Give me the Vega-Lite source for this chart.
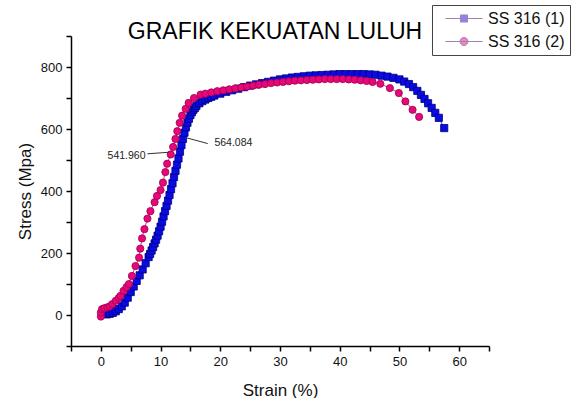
{
  "$schema": "https://vega.github.io/schema/vega-lite/v6.json",
  "width": 418,
  "height": 310,
  "autosize": {"type": "none"},
  "padding": {"left": 71, "top": 36, "right": 85, "bottom": 52},
  "background": "white",
  "config": {
    "view": {"stroke": null},
    "axis": {
      "domainColor": "#000", "domainWidth": 1.5, "tickColor": "#000", "tickWidth": 1.5, "tickSize": 5,
      "labelFont": "Liberation Sans", "labelFontSize": 13, "labelColor": "#111",
      "titleFont": "Liberation Sans", "titleFontSize": 17, "titleFontWeight": "normal", "titleColor": "#111",
      "grid": false, "labelFlush": false
    }
  },
  "title": {
    "text": "GRAFIK KEKUATAN LULUH", "font": "Liberation Sans", "fontSize": 23, "fontWeight": "normal",
    "color": "#000", "frame": "group", "anchor": "middle", "baseline": "alphabetic", "offset": -57, "dx": -5
  },
  "resolve": {"scale": {"color": "independent", "shape": "independent", "stroke": "independent", "size": "independent"}},
  "datasets": {
    "curves": [
      {"series": "SS 316 (1)", "strain": 1.0, "stress": 2},
      {"series": "SS 316 (1)", "strain": 1.5, "stress": 4},
      {"series": "SS 316 (1)", "strain": 2.0, "stress": 7},
      {"series": "SS 316 (1)", "strain": 2.5, "stress": 12},
      {"series": "SS 316 (1)", "strain": 3.0, "stress": 19},
      {"series": "SS 316 (1)", "strain": 3.5, "stress": 28},
      {"series": "SS 316 (1)", "strain": 4.0, "stress": 40},
      {"series": "SS 316 (1)", "strain": 4.5, "stress": 56},
      {"series": "SS 316 (1)", "strain": 5.0, "stress": 74},
      {"series": "SS 316 (1)", "strain": 5.5, "stress": 92},
      {"series": "SS 316 (1)", "strain": 6.0, "stress": 110},
      {"series": "SS 316 (1)", "strain": 6.5, "stress": 128},
      {"series": "SS 316 (1)", "strain": 7.0, "stress": 147},
      {"series": "SS 316 (1)", "strain": 7.5, "stress": 167},
      {"series": "SS 316 (1)", "strain": 8.0, "stress": 187},
      {"series": "SS 316 (1)", "strain": 8.25, "stress": 197},
      {"series": "SS 316 (1)", "strain": 8.5, "stress": 208},
      {"series": "SS 316 (1)", "strain": 8.75, "stress": 219},
      {"series": "SS 316 (1)", "strain": 9.0, "stress": 231},
      {"series": "SS 316 (1)", "strain": 9.25, "stress": 243},
      {"series": "SS 316 (1)", "strain": 9.5, "stress": 256},
      {"series": "SS 316 (1)", "strain": 9.75, "stress": 270},
      {"series": "SS 316 (1)", "strain": 10.0, "stress": 285},
      {"series": "SS 316 (1)", "strain": 10.25, "stress": 301},
      {"series": "SS 316 (1)", "strain": 10.5, "stress": 318},
      {"series": "SS 316 (1)", "strain": 10.75, "stress": 335},
      {"series": "SS 316 (1)", "strain": 11.0, "stress": 352},
      {"series": "SS 316 (1)", "strain": 11.25, "stress": 369},
      {"series": "SS 316 (1)", "strain": 11.5, "stress": 387},
      {"series": "SS 316 (1)", "strain": 11.75, "stress": 406},
      {"series": "SS 316 (1)", "strain": 12.0, "stress": 425},
      {"series": "SS 316 (1)", "strain": 12.25, "stress": 445},
      {"series": "SS 316 (1)", "strain": 12.5, "stress": 465},
      {"series": "SS 316 (1)", "strain": 12.75, "stress": 485},
      {"series": "SS 316 (1)", "strain": 13.0, "stress": 505},
      {"series": "SS 316 (1)", "strain": 13.25, "stress": 527},
      {"series": "SS 316 (1)", "strain": 13.5, "stress": 548},
      {"series": "SS 316 (1)", "strain": 13.75, "stress": 568},
      {"series": "SS 316 (1)", "strain": 14.0, "stress": 588},
      {"series": "SS 316 (1)", "strain": 14.25, "stress": 605},
      {"series": "SS 316 (1)", "strain": 14.5, "stress": 620},
      {"series": "SS 316 (1)", "strain": 14.75, "stress": 633},
      {"series": "SS 316 (1)", "strain": 15.0, "stress": 645},
      {"series": "SS 316 (1)", "strain": 15.25, "stress": 654},
      {"series": "SS 316 (1)", "strain": 15.5, "stress": 662},
      {"series": "SS 316 (1)", "strain": 15.75, "stress": 668},
      {"series": "SS 316 (1)", "strain": 16.0, "stress": 674},
      {"series": "SS 316 (1)", "strain": 16.5, "stress": 683},
      {"series": "SS 316 (1)", "strain": 17.0, "stress": 690},
      {"series": "SS 316 (1)", "strain": 17.5, "stress": 695},
      {"series": "SS 316 (1)", "strain": 18.0, "stress": 700},
      {"series": "SS 316 (1)", "strain": 18.5, "stress": 704},
      {"series": "SS 316 (1)", "strain": 19, "stress": 708},
      {"series": "SS 316 (1)", "strain": 20, "stress": 714},
      {"series": "SS 316 (1)", "strain": 21, "stress": 720},
      {"series": "SS 316 (1)", "strain": 22, "stress": 725},
      {"series": "SS 316 (1)", "strain": 23, "stress": 730},
      {"series": "SS 316 (1)", "strain": 24, "stress": 735},
      {"series": "SS 316 (1)", "strain": 25, "stress": 740},
      {"series": "SS 316 (1)", "strain": 26, "stress": 744},
      {"series": "SS 316 (1)", "strain": 27, "stress": 748},
      {"series": "SS 316 (1)", "strain": 28, "stress": 752},
      {"series": "SS 316 (1)", "strain": 29, "stress": 756},
      {"series": "SS 316 (1)", "strain": 30, "stress": 760},
      {"series": "SS 316 (1)", "strain": 31, "stress": 763},
      {"series": "SS 316 (1)", "strain": 32, "stress": 766},
      {"series": "SS 316 (1)", "strain": 33, "stress": 768},
      {"series": "SS 316 (1)", "strain": 34, "stress": 770},
      {"series": "SS 316 (1)", "strain": 35, "stress": 772},
      {"series": "SS 316 (1)", "strain": 36, "stress": 773},
      {"series": "SS 316 (1)", "strain": 37, "stress": 774},
      {"series": "SS 316 (1)", "strain": 38, "stress": 775},
      {"series": "SS 316 (1)", "strain": 39, "stress": 776},
      {"series": "SS 316 (1)", "strain": 40, "stress": 777},
      {"series": "SS 316 (1)", "strain": 41, "stress": 777},
      {"series": "SS 316 (1)", "strain": 42, "stress": 777},
      {"series": "SS 316 (1)", "strain": 43, "stress": 777},
      {"series": "SS 316 (1)", "strain": 44, "stress": 777},
      {"series": "SS 316 (1)", "strain": 45, "stress": 776},
      {"series": "SS 316 (1)", "strain": 46, "stress": 775},
      {"series": "SS 316 (1)", "strain": 47, "stress": 772},
      {"series": "SS 316 (1)", "strain": 48, "stress": 769},
      {"series": "SS 316 (1)", "strain": 49, "stress": 765},
      {"series": "SS 316 (1)", "strain": 50, "stress": 760},
      {"series": "SS 316 (1)", "strain": 50.8, "stress": 753},
      {"series": "SS 316 (1)", "strain": 51.6, "stress": 745},
      {"series": "SS 316 (1)", "strain": 52.3, "stress": 735},
      {"series": "SS 316 (1)", "strain": 53.0, "stress": 723},
      {"series": "SS 316 (1)", "strain": 53.6, "stress": 710},
      {"series": "SS 316 (1)", "strain": 54.2, "stress": 697},
      {"series": "SS 316 (1)", "strain": 54.8, "stress": 683},
      {"series": "SS 316 (1)", "strain": 55.4, "stress": 668},
      {"series": "SS 316 (1)", "strain": 56.0, "stress": 652},
      {"series": "SS 316 (1)", "strain": 56.6, "stress": 636},
      {"series": "SS 316 (1)", "strain": 57.5, "stress": 603},
      {"series": "SS 316 (2)", "strain": 0.0, "stress": -5},
      {"series": "SS 316 (2)", "strain": 0.0, "stress": 8},
      {"series": "SS 316 (2)", "strain": 0.2, "stress": 19},
      {"series": "SS 316 (2)", "strain": 0.6, "stress": 22},
      {"series": "SS 316 (2)", "strain": 1.1, "stress": 25},
      {"series": "SS 316 (2)", "strain": 1.5, "stress": 28},
      {"series": "SS 316 (2)", "strain": 1.9, "stress": 35},
      {"series": "SS 316 (2)", "strain": 2.5, "stress": 46},
      {"series": "SS 316 (2)", "strain": 3.0, "stress": 55},
      {"series": "SS 316 (2)", "strain": 3.3, "stress": 62},
      {"series": "SS 316 (2)", "strain": 3.8, "stress": 78},
      {"series": "SS 316 (2)", "strain": 4.3, "stress": 90},
      {"series": "SS 316 (2)", "strain": 4.7, "stress": 100},
      {"series": "SS 316 (2)", "strain": 5.2, "stress": 126},
      {"series": "SS 316 (2)", "strain": 5.8, "stress": 158},
      {"series": "SS 316 (2)", "strain": 6.4, "stress": 185},
      {"series": "SS 316 (2)", "strain": 6.6, "stress": 214},
      {"series": "SS 316 (2)", "strain": 6.9, "stress": 247},
      {"series": "SS 316 (2)", "strain": 7.3, "stress": 277},
      {"series": "SS 316 (2)", "strain": 7.8, "stress": 311},
      {"series": "SS 316 (2)", "strain": 8.3, "stress": 335},
      {"series": "SS 316 (2)", "strain": 9.0, "stress": 364},
      {"series": "SS 316 (2)", "strain": 9.4, "stress": 384},
      {"series": "SS 316 (2)", "strain": 10.0, "stress": 403},
      {"series": "SS 316 (2)", "strain": 10.4, "stress": 427},
      {"series": "SS 316 (2)", "strain": 10.8, "stress": 461},
      {"series": "SS 316 (2)", "strain": 11.1, "stress": 488},
      {"series": "SS 316 (2)", "strain": 11.7, "stress": 518},
      {"series": "SS 316 (2)", "strain": 12.1, "stress": 542},
      {"series": "SS 316 (2)", "strain": 12.5, "stress": 568},
      {"series": "SS 316 (2)", "strain": 12.8, "stress": 593},
      {"series": "SS 316 (2)", "strain": 13.2, "stress": 620},
      {"series": "SS 316 (2)", "strain": 13.6, "stress": 643},
      {"series": "SS 316 (2)", "strain": 14.2, "stress": 665},
      {"series": "SS 316 (2)", "strain": 14.7, "stress": 684},
      {"series": "SS 316 (2)", "strain": 15.6, "stress": 700},
      {"series": "SS 316 (2)", "strain": 16.7, "stress": 711},
      {"series": "SS 316 (2)", "strain": 17.5, "stress": 714},
      {"series": "SS 316 (2)", "strain": 18.5, "stress": 718},
      {"series": "SS 316 (2)", "strain": 19.5, "stress": 722},
      {"series": "SS 316 (2)", "strain": 20.5, "stress": 725},
      {"series": "SS 316 (2)", "strain": 21.5, "stress": 728},
      {"series": "SS 316 (2)", "strain": 22.5, "stress": 731},
      {"series": "SS 316 (2)", "strain": 23.5, "stress": 734},
      {"series": "SS 316 (2)", "strain": 24.5, "stress": 737},
      {"series": "SS 316 (2)", "strain": 25.5, "stress": 740},
      {"series": "SS 316 (2)", "strain": 26.5, "stress": 743},
      {"series": "SS 316 (2)", "strain": 27.5, "stress": 745},
      {"series": "SS 316 (2)", "strain": 28.5, "stress": 748},
      {"series": "SS 316 (2)", "strain": 29.5, "stress": 750},
      {"series": "SS 316 (2)", "strain": 30.5, "stress": 752},
      {"series": "SS 316 (2)", "strain": 31.5, "stress": 754},
      {"series": "SS 316 (2)", "strain": 32.5, "stress": 756},
      {"series": "SS 316 (2)", "strain": 33.5, "stress": 757},
      {"series": "SS 316 (2)", "strain": 34.5, "stress": 758},
      {"series": "SS 316 (2)", "strain": 35.5, "stress": 759},
      {"series": "SS 316 (2)", "strain": 36.5, "stress": 760},
      {"series": "SS 316 (2)", "strain": 37.5, "stress": 761},
      {"series": "SS 316 (2)", "strain": 38.5, "stress": 761},
      {"series": "SS 316 (2)", "strain": 39.5, "stress": 761},
      {"series": "SS 316 (2)", "strain": 40.5, "stress": 761},
      {"series": "SS 316 (2)", "strain": 41.5, "stress": 760},
      {"series": "SS 316 (2)", "strain": 42.5, "stress": 759},
      {"series": "SS 316 (2)", "strain": 43.5, "stress": 757},
      {"series": "SS 316 (2)", "strain": 44.5, "stress": 755},
      {"series": "SS 316 (2)", "strain": 45.5, "stress": 752},
      {"series": "SS 316 (2)", "strain": 46.8, "stress": 746},
      {"series": "SS 316 (2)", "strain": 48.4, "stress": 732},
      {"series": "SS 316 (2)", "strain": 49.9, "stress": 716},
      {"series": "SS 316 (2)", "strain": 51.0, "stress": 689},
      {"series": "SS 316 (2)", "strain": 52.2, "stress": 662},
      {"series": "SS 316 (2)", "strain": 53.3, "stress": 639}
    ],
    "labels": [
      {"strain": 4.3, "stress": 514, "label": "541.960"},
      {"strain": 22.2, "stress": 555, "label": "564.084"}
    ],
    "leaders": [
      {"strain": 7.8, "stress": 520, "strain2": 11.4, "stress2": 525},
      {"strain": 14.45, "stress": 571, "strain2": 17.9, "stress2": 553}
    ]
  },
  "encoding": {
    "x": {
      "field": "strain", "type": "quantitative",
      "scale": {"domain": [-5, 65], "nice": false, "zero": false},
      "axis": {
        "title": "Strain (%)", "titlePadding": 14,
        "values": [-5, 0, 5, 10, 15, 20, 25, 30, 35, 40, 45, 50, 55, 60, 65],
        "labelExpr": "datum.value % 10 === 0 ? datum.label : ''",
        "labelPadding": 4
      }
    },
    "y": {
      "field": "stress", "type": "quantitative",
      "scale": {"domain": [-100, 900], "nice": false, "zero": false},
      "axis": {
        "title": "Stress (Mpa)", "titlePadding": 6,
        "values": [-100, 0, 100, 200, 300, 400, 500, 600, 700, 800, 900],
        "labelExpr": "datum.value % 200 === 0 && datum.value >= 0 ? datum.label : ''",
        "labelPadding": 4
      }
    }
  },
  "layer": [
    {
      "data": {"name": "curves"},
      "transform": [{"filter": "datum.series === 'SS 316 (1)'"}],
      "mark": {"type": "line", "color": "#3c3ca0", "strokeWidth": 1}
    },
    {
      "data": {"name": "curves"},
      "transform": [{"filter": "datum.series === 'SS 316 (2)'"}],
      "mark": {"type": "line", "color": "#b05080", "strokeWidth": 1}
    },
    {
      "data": {"name": "curves"},
      "mark": {"type": "point", "filled": true, "stroke": "#7a4f94", "size": 1},
      "encoding": {
        "color": {
          "field": "series", "type": "nominal",
          "scale": {"domain": ["SS 316 (1)", "SS 316 (2)"], "range": ["#0a0ae6", "#e8077a"]},
          "legend": {
            "orient": "none", "legendX": 361, "legendY": -31, "title": null,
            "strokeColor": "#444", "padding": 5, "rowPadding": 6,
            "labelFont": "Liberation Sans", "labelFontSize": 16, "labelColor": "#111",
            "labelOffset": 34, "symbolSize": 256, "symbolStrokeWidth": 1, "symbolOpacity": 1,
            "symbolStrokeColor": "#7a4f94",
            "fillColor": "white"
          }
        },
        "shape": {
          "field": "series", "type": "nominal",
          "scale": {
            "domain": ["SS 316 (1)", "SS 316 (2)"],
            "range": ["M0,0H4.625M1.87,-0.44H2.75V0.44H1.87Z", "M0,0H4.625M2.81,0A0.5,0.5,0,1,1,1.81,0A0.5,0.5,0,1,1,2.81,0Z"]
          }
        }
      }
    },
    {
      "data": {"name": "curves"},
      "mark": {"type": "point", "filled": true, "strokeWidth": 0.8, "opacity": 1},
      "encoding": {
        "color": {
          "field": "series", "type": "nominal", "legend": null,
          "scale": {"domain": ["SS 316 (1)", "SS 316 (2)"], "range": ["#0a0ae6", "#e8077a"]}
        },
        "shape": {
          "field": "series", "type": "nominal", "legend": null,
          "scale": {"domain": ["SS 316 (1)", "SS 316 (2)"], "range": ["square", "circle"]}
        },
        "stroke": {
          "field": "series", "type": "nominal", "legend": null,
          "scale": {"domain": ["SS 316 (1)", "SS 316 (2)"], "range": ["#00007a", "#a0004a"]}
        },
        "size": {"value": 52}
      }
    },
    {
      "data": {"name": "leaders"},
      "mark": {"type": "rule", "color": "#333", "strokeWidth": 1},
      "encoding": {
        "x2": {"field": "strain2"},
        "y2": {"field": "stress2"}
      }
    },
    {
      "data": {"name": "labels"},
      "mark": {"type": "text", "font": "Liberation Sans", "fontSize": 10.5, "color": "#222", "align": "center", "baseline": "middle"},
      "encoding": {
        "text": {"field": "label", "type": "nominal"}
      }
    }
  ]
}
